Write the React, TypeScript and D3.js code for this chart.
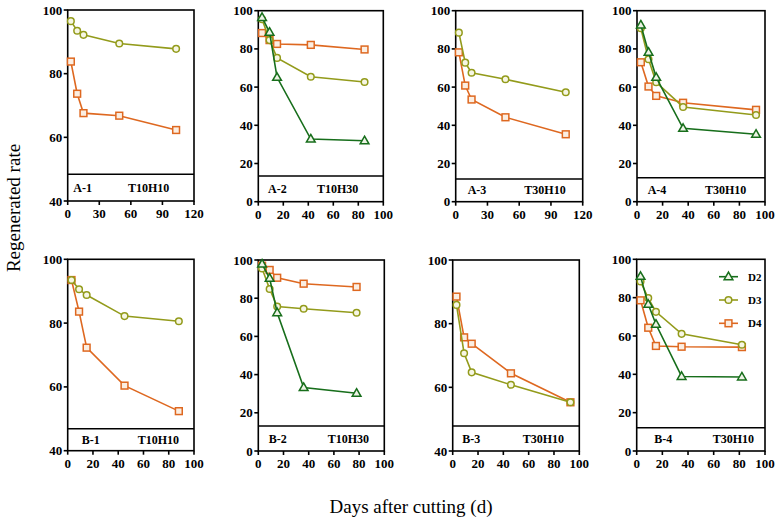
import React from "react";
import * as d3 from "d3";

// ---- data ----
const seriesNames = ["D2", "D3", "D4"];

const daysA1 = [3, 9, 15, 49, 103];
const a1D3 = [96.5, 93.5, 92.2, 89.5, 87.8];
const a1D4 = [83.8, 73.7, 67.6, 66.8, 62.3];

const daysA2 = [3, 9, 15, 42, 85];
const a2D2 = [96.5, 88.7, 65.1, 32.8, 31.9];
const a2D3 = [95.5, 84.6, 75.3, 65.4, 62.7];
const a2D4 = [88.3, 84.6, 82.6, 82.1, 79.7];

const daysA3 = [3, 9, 15, 47, 104];
const a3D3 = [88.5, 72.8, 67.5, 64.1, 57.3];
const a3D4 = [78.2, 60.8, 53.5, 44.2, 35.3];

const daysA4 = [3, 9, 15, 36, 93];
const a4D2 = [92.5, 78.2, 65.1, 38.4, 35.3];
const a4D3 = [90.8, 74.6, 62.5, 49.6, 45.4];
const a4D4 = [73.0, 60.3, 55.4, 51.8, 48.1];

const daysB1 = [3, 9, 15, 45, 88];
const b1D3 = [93.5, 90.6, 88.8, 82.2, 80.6];
const b1D4 = [93.5, 83.6, 72.3, 60.4, 52.4];

const daysB2 = [3, 9, 15, 36, 78];
const b2D2 = [97.9, 90.4, 72.4, 33.2, 30.2];
const b2D3 = [95.6, 84.8, 75.6, 74.5, 72.4];
const b2D4 = [97.0, 94.8, 90.7, 87.6, 85.9];

const daysB3 = [3, 9, 15, 46, 93];
const b3D3 = [85.9, 70.7, 64.7, 60.8, 55.3];
const b3D4 = [88.5, 75.7, 73.7, 64.4, 55.3];

const daysB4 = [3, 9, 15, 35, 82];
const b4D2 = [91.1, 76.5, 66.1, 38.9, 38.6];
const b4D3 = [88.4, 79.8, 72.6, 61.1, 55.4];
const b4D4 = [78.6, 64.3, 54.8, 54.4, 54.2];

const xTicks120 = [0, 30, 60, 90, 120];
const xTicks100 = [0, 20, 40, 60, 80, 100];
const yTicks40 = [40, 60, 80, 100];
const yTicks0 = [0, 20, 40, 60, 80, 100];

const panelIds = ["A-1", "A-2", "A-3", "A-4", "B-1", "B-2", "B-3", "B-4"];
const panelConds = ["T10H10", "T10H30", "T30H10", "T30H10", "T10H10", "T10H30", "T30H10", "T30H10"];

// ---- styles / layout ----
const COLORS: Record<string, string> = { D2: "#176e1b", D3: "#939b1b", D4: "#de6820" };
const FILLS: Record<string, string> = { D2: "#eef3e6", D3: "#f6f6e4", D4: "#fbeee2" };
const FONT = "'Liberation Serif', 'Times New Roman', serif";

type Panel = {
  id: string; cond: string;
  L: number; R: number; T: number; B: number;
  xMax: number; xTicks: number[]; yMin: number; yTicks: number[];
  sep: number; idX: number; condX: number;
  days: number[];
  series: { name: string; values: number[] }[];
  legend?: boolean;
};

const panels: Panel[] = [
  { id: panelIds[0], cond: panelConds[0], L: 67.7, R: 194, T: 10, B: 201, xMax: 120, xTicks: xTicks120, yMin: 40, yTicks: yTicks40, sep: 26.7, idX: 5.6, condX: 60.3, days: daysA1,
    series: [{ name: "D4", values: a1D4 }, { name: "D3", values: a1D3 }] },
  { id: panelIds[1], cond: panelConds[1], L: 258.3, R: 383.3, T: 10.7, B: 201.7, xMax: 100, xTicks: xTicks100, yMin: 0, yTicks: yTicks0, sep: 25.7, idX: 9.7, condX: 58.7, days: daysA2,
    series: [{ name: "D4", values: a2D4 }, { name: "D3", values: a2D3 }, { name: "D2", values: a2D2 }] },
  { id: panelIds[2], cond: panelConds[2], L: 455.7, R: 582.7, T: 10.7, B: 201.7, xMax: 120, xTicks: xTicks120, yMin: 0, yTicks: yTicks0, sep: 22.7, idX: 12, condX: 68.6, days: daysA3,
    series: [{ name: "D4", values: a3D4 }, { name: "D3", values: a3D3 }] },
  { id: panelIds[3], cond: panelConds[3], L: 637, R: 765, T: 10.7, B: 201.7, xMax: 100, xTicks: xTicks100, yMin: 0, yTicks: yTicks0, sep: 24, idX: 10.7, condX: 68, days: daysA4,
    series: [{ name: "D4", values: a4D4 }, { name: "D3", values: a4D3 }, { name: "D2", values: a4D2 }] },
  { id: panelIds[4], cond: panelConds[4], L: 67.7, R: 194, T: 259.3, B: 450.7, xMax: 100, xTicks: xTicks100, yMin: 40, yTicks: yTicks40, sep: 22, idX: 14, condX: 70, days: daysB1,
    series: [{ name: "D4", values: b1D4 }, { name: "D3", values: b1D3 }] },
  { id: panelIds[5], cond: panelConds[5], L: 258.3, R: 384.3, T: 260, B: 451, xMax: 100, xTicks: xTicks100, yMin: 0, yTicks: yTicks0, sep: 25, idX: 10.4, condX: 69.4, days: daysB2,
    series: [{ name: "D4", values: b2D4 }, { name: "D3", values: b2D3 }, { name: "D2", values: b2D2 }] },
  { id: panelIds[6], cond: panelConds[6], L: 452.7, R: 579.3, T: 260, B: 451, xMax: 100, xTicks: xTicks100, yMin: 40, yTicks: yTicks40, sep: 25, idX: 9.6, condX: 70, days: daysB3,
    series: [{ name: "D4", values: b3D4 }, { name: "D3", values: b3D3 }] },
  { id: panelIds[7], cond: panelConds[7], L: 636.7, R: 765, T: 259.3, B: 451, xMax: 100, xTicks: xTicks100, yMin: 0, yTicks: yTicks0, sep: 23.3, idX: 17.6, condX: 76, days: daysB4,
    series: [{ name: "D4", values: b4D4 }, { name: "D3", values: b4D3 }, { name: "D2", values: b4D2 }], legend: true },
];

function Marker({ name, x, y }: { name: string; x: number; y: number }) {
  const c = COLORS[name];
  const f = FILLS[name];
  if (name === "D2") {
    const s = 4.6;
    const pts = `${x},${y - s} ${x + s * 0.95},${y + s * 0.65} ${x - s * 0.95},${y + s * 0.65}`;
    return <polygon points={pts} fill={f} stroke={c} strokeWidth={1.5} />;
  }
  if (name === "D3") {
    return <circle cx={x} cy={y} r={3.3} fill={f} stroke={c} strokeWidth={1.5} />;
  }
  return <rect x={x - 3.4} y={y - 3.4} width={6.8} height={6.8} fill={f} stroke={c} strokeWidth={1.5} />;
}

function PanelView({ p }: { p: Panel }) {
  const x = d3.scaleLinear().domain([0, p.xMax]).range([p.L, p.R]);
  const y = d3.scaleLinear().domain([p.yMin, 100]).range([p.B, p.T]);
  const line = d3.line<[number, number]>().x((d) => x(d[0])).y((d) => y(d[1]));
  const sepY = p.B - p.sep;
  const labelY = (sepY + p.B) / 2 + 4;
  return (
    <g>
      <rect x={p.L} y={p.T} width={p.R - p.L} height={p.B - p.T} fill="none" stroke="#000" strokeWidth={1.6} />
      <line x1={p.L} x2={p.R} y1={sepY} y2={sepY} stroke="#000" strokeWidth={1.6} />
      {p.yTicks.map((t) => (
        <g key={"y" + t}>
          <line x1={p.L - 4} x2={p.L} y1={y(t)} y2={y(t)} stroke="#000" strokeWidth={1.6} />
          <text x={p.L - 5.5} y={y(t)} dy="0.35em" textAnchor="end" fontFamily={FONT} fontWeight="bold" fontSize={13}>{t}</text>
        </g>
      ))}
      {p.xTicks.map((t) => (
        <g key={"x" + t}>
          <line x1={x(t)} x2={x(t)} y1={p.B} y2={p.B + 4} stroke="#000" strokeWidth={1.6} />
          <text x={x(t)} y={p.B + 17} textAnchor="middle" fontFamily={FONT} fontWeight="bold" fontSize={13}>{t}</text>
        </g>
      ))}
      <text x={p.L + p.idX} y={labelY} fontFamily={FONT} fontWeight="bold" fontSize={12}>{p.id}</text>
      <text x={p.L + p.condX} y={labelY} fontFamily={FONT} fontWeight="bold" fontSize={12}>{p.cond}</text>
      {p.series.map((s) => {
        const pts = p.days.map((d, i) => [d, s.values[i]] as [number, number]);
        return (
          <g key={s.name}>
            <path d={line(pts) || ""} fill="none" stroke={COLORS[s.name]} strokeWidth={1.6} />
            {pts.map((pt, i) => (
              <Marker key={i} name={s.name} x={x(pt[0])} y={y(pt[1])} />
            ))}
          </g>
        );
      })}
      {p.legend &&
        seriesNames.map((n, i) => {
          const ly = p.T + 17.4 + i * 23.3;
          return (
            <g key={"lg" + n}>
              <line x1={719} x2={738} y1={ly} y2={ly} stroke={COLORS[n]} strokeWidth={1.6} />
              <Marker name={n} x={728.5} y={ly} />
              <text x={748} y={ly} dy="0.35em" fontFamily={FONT} fontWeight="bold" fontSize={11}>{n}</text>
            </g>
          );
        })}
    </g>
  );
}

export default function App() {
  return (
    <svg width={779} height={524} style={{ position: "absolute", left: 0, top: 0, background: "#fff" }}>
      <rect width={779} height={524} fill="#fff" />
      {panels.map((p) => (
        <PanelView key={p.id} p={p} />
      ))}
      <text transform="translate(20,208) rotate(-90)" textAnchor="middle" fontFamily={FONT} fontSize={19}>Regenerated rate</text>
      <text x={411} y={513} textAnchor="middle" fontFamily={FONT} fontSize={19}>Days after cutting (d)</text>
    </svg>
  );
}
